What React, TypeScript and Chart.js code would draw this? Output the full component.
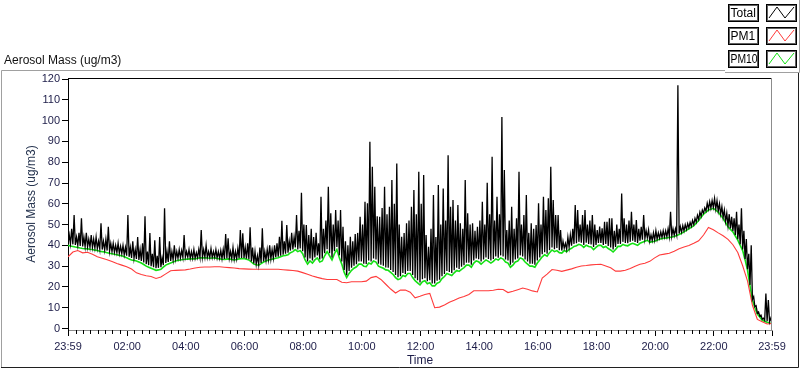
import React, { useEffect, useRef } from 'react';
import { Chart, registerables } from 'chart.js';

Chart.register(...registerables);

// ---- data (minutes after 23:59 of the previous day) ----
const TOTAL_STEP_MIN = 5; // each 5-minute bin: lowest and highest Total reading
const PM10_STEP_MIN = 5;
const PM1_STEP_MIN = 10;

const totalLow = [
  41, 40.7, 40.5, 40.2, 40, 39.7, 39.5, 39.4, 39.3, 39.1,
  39, 38.7, 38.5, 38.2, 38, 37.8, 37.5, 37.2, 37, 36.7,
  36.5, 36.2, 36, 35.5, 35, 34.5, 34, 33.8, 33.5, 33,
  32.5, 31.8, 31, 30.5, 30, 29.5, 29, 29.2, 29.5, 30.5,
  31.5, 32, 32.5, 33, 33.5, 33.8, 34, 34.2, 34.3, 34.4,
  33.8, 33.8, 33.8, 34.1, 34.3, 34.3, 34.3, 34.2, 34.1, 34.2,
  34.3, 34, 33.8, 33.6, 33.5, 33.7, 33.8, 33.5, 33.3, 33.5,
  33.8, 33.9, 34, 33.6, 33.3, 32.3, 31.3, 31, 30.8, 31.5,
  32.3, 32.8, 33.3, 33.5, 33.8, 34.3, 34.5, 35, 35.5, 36,
  36.5, 37.5, 38, 39, 38, 38.5,
  37.2, 34.2, 32.2, 33.7, 32.7, 34.2, 35.2, 33.2, 33.7, 36.2,
  38.2, 36.2, 34.2, 37.2, 39.2, 35.2, 32.2, 28.2, 25.7, 27.7,
  29.2, 30.2, 30.9, 32.2, 32.2, 31.2, 31, 32.7, 32.2, 33.7,
  33.2, 31.2, 30.7, 30.2, 29.4, 29.2, 28.2, 27.2, 25.7, 24.7,
  25.2, 26.7, 26.2, 27.7, 27.7, 25.7, 24.2, 23.2, 22.2, 23.7,
  24.2, 22.7, 23.2, 21.7, 21.7, 23, 23.5, 25.2, 26.2, 27.7,
  27.2, 26.7, 28, 29.2, 28.7, 29.7, 30.5, 31.7, 31.7, 30.7,
  32.7, 33.7, 33.3, 32.2, 33.2, 34.2, 33.5, 32.7, 33.5, 34.7,
  34.1, 35.2, 34.6, 33.2, 32.7, 30.7, 31.7, 33.2, 33.7, 35.2,
  34.7, 33.2, 32.2, 31.2, 31.2, 30.7, 32.7, 34.2, 35.7, 36.7,
  36, 37.7, 39, 38.2, 38.7, 37.7, 37.5, 38.7, 38.1, 39.2,
  39.8, 40.7, 41, 41.7, 41.3, 40.2, 41.3, 40.7, 40.4, 39.2,
  40.2, 41.2, 41.2, 40.2, 40.7, 39.7, 39, 38, 39.2, 40.7,
  40.7, 41.7, 41.2, 41, 41.7, 42.2, 41.7, 41.2, 42.2, 42.7,
  43.2, 43.7,
  42, 42.3, 42.5, 43, 43.5, 43.8, 44, 44.1, 44.3, 44.5,
  44.8, 45.2, 45.7, 46.3, 47, 47.7, 48.5, 49.2, 50, 51.2,
  52.5, 54, 55.5, 56.5, 57.5, 57.9, 58.3, 57.5, 56.5, 55,
  53.5, 51.5, 49.5, 48.2, 47, 45, 43, 40.5, 38, 33.5,
  28.5, 21, 14, 10.5, 7.5, 6, 4.5, 4, 3.5, 3.2,
  3,
];

const totalHigh = [
  45, 48, 54.6, 44, 46, 53, 44, 46, 43, 45,
  43, 44, 42, 50.6, 42, 43, 49, 41, 41, 40,
  41, 39.5, 40, 39, 54.6, 39, 42, 38, 44, 38,
  41, 54, 37, 46, 36, 42.5, 35, 44, 34, 57.8,
  37, 42, 37, 40, 37, 38, 37.5, 45, 37, 38,
  37, 38, 36.5, 38, 47.4, 38, 40, 37, 38.5, 37,
  38, 37, 37.5, 38, 45.4, 43.4, 37, 39, 37, 38.5,
  47.4, 45.8, 39, 41, 48.7, 39, 37, 35, 39, 48.2,
  37, 38, 40, 38, 40, 41, 44.1, 51.8, 42, 49.8,
  42, 46, 44, 54.6, 47, 65.3,
  50, 49.8, 45, 48, 44, 46, 41, 63.4, 48, 52,
  68.2, 55.4, 50, 57, 52, 57, 48.9, 42, 40, 44.1,
  42, 45.4, 46, 53.7, 50, 61, 60.2, 89.8, 77.8, 68.2,
  54, 53.7, 58, 68.2, 55, 58.6, 71.4, 60, 79.4, 50,
  44.1, 46, 50.6, 52, 58.6, 66.6, 55, 75.4, 60, 73.8,
  45, 39.3, 48, 64.2, 44, 69, 50, 67.4, 52, 83.4,
  58.6, 61.8, 52, 59.4, 50.6, 48, 71.4, 55.4, 50, 50.6,
  47, 48.9, 52, 61, 50, 70.1, 55, 82.6, 52, 63.4,
  55, 101.8, 76.2, 47.4, 52, 58.6, 48, 53, 75.4, 50,
  54.6, 64.2, 46, 50.6, 48, 49.8, 60.2, 50, 63.4, 57,
  62.6, 77.8, 61.8, 54.6, 54.6, 47.4, 42, 41, 44, 45,
  48, 59.4, 57, 50, 54.6, 57, 50, 52, 54.6, 50,
  47.4, 49, 48.2, 51.4, 51.4, 53, 53, 47, 50, 48,
  65, 53, 50, 52, 56.1, 50, 52.2, 48, 48.9, 54.6,
  47, 47.4,
  45, 46, 47, 46, 46.5, 47, 47, 48, 56.1, 48,
  48, 117, 49, 49.5, 50, 50.5, 51, 52, 53, 54.5,
  56, 57, 58, 60.2, 61, 61.5, 62.6, 61.5, 60, 58.6,
  57, 55.4, 55, 53.7, 53, 56.1, 50, 57.8, 47, 43,
  36, 40.1, 15.3, 11, 8, 6.5, 5, 16.9, 13.7, 5,
  3.5,
];

const pm10Values = [
  40, 39.7, 39.5, 39.2, 39, 38.7, 38.5, 38.4, 38.3, 38.1,
  38, 37.7, 37.5, 37.2, 37, 36.8, 36.5, 36.2, 36, 35.7,
  35.5, 35.2, 35, 34.5, 34, 33.5, 33, 32.8, 32.5, 32,
  31.5, 30.8, 30, 29.5, 29, 28.5, 28, 28.2, 28.5, 29.5,
  30.5, 31, 31.5, 32, 32.5, 32.8, 33, 33.2, 33.3, 33.4,
  33.5, 33.5, 33.5, 33.8, 34, 34, 34, 33.9, 33.8, 33.9,
  34, 33.7, 33.5, 33.3, 33.2, 33.4, 33.5, 33.2, 33, 33.2,
  33.5, 33.6, 33.7, 33.3, 33, 32, 31, 30.7, 30.5, 31.2,
  32, 32.5, 33, 33.2, 33.5, 33.8, 34, 34.5, 35, 35.2,
  35.5, 36.5, 37, 38, 37, 37.5, 36, 33, 31, 32.5,
  31.5, 33, 34, 32, 32.5, 35, 37, 35, 33, 36,
  38, 34, 31, 27, 24.5, 26.5, 28, 29, 29.7, 31,
  31, 30, 29.8, 31.5, 31, 32.5, 32, 30, 29.5, 29,
  28.2, 28, 27, 26, 24.5, 23.5, 24, 25.5, 25, 26.5,
  26.5, 24.5, 23, 22, 21, 22.5, 23, 21.5, 22, 20.5,
  20.5, 21.8, 22.3, 24, 25, 26.5, 26, 25.5, 26.8, 28,
  27.5, 28.5, 29.3, 30.5, 30.5, 29.5, 31.5, 32.5, 32.1, 31,
  32, 33, 32.3, 31.5, 32.3, 33.5, 32.9, 34, 33.4, 32,
  31.5, 29.5, 30.5, 32, 32.5, 34, 33.5, 32, 31, 30,
  30, 29.5, 31.5, 33, 34.5, 35.5, 34.8, 36.5, 37.8, 37,
  37.5, 36.5, 36.3, 37.5, 36.9, 38, 38.6, 39.5, 39.8, 40.5,
  40.1, 39, 40.1, 39.5, 39.2, 38, 39, 40, 40, 39,
  39.5, 38.5, 37.8, 36.8, 38, 39.5, 39.5, 40.5, 40, 39.8,
  40.5, 41, 40.5, 40, 41, 41.5, 42, 42.5, 41.5, 41.8,
  42, 42.5, 43, 43.3, 43.5, 43.6, 43.8, 44, 44.3, 44.7,
  45.2, 45.8, 46.5, 47.2, 48, 48.7, 49.5, 50.7, 52, 53.5,
  55, 56, 57, 57.4, 57.8, 57, 56, 54.5, 53, 51,
  49, 47.7, 46.5, 44.5, 42.5, 40, 37.5, 33, 28, 20.5,
  13.5, 10, 7, 5.5, 4, 3.5, 3, 2.7, 2.5,
];

const pm1Values = [
  34.5, 36.8, 37.5, 36.4, 36.7, 35.7, 34.5, 33.8, 33.1, 32.2,
  31.3, 30.5, 29.7, 28.6, 26.8, 26.0, 25.4, 25.0, 24.1, 24.8,
  26.3, 27.8, 28.0, 28.1, 28.2, 28.6, 29.1, 29.5, 29.6, 29.6,
  29.7, 29.7, 29.5, 29.3, 29.1, 28.8, 28.7, 28.6, 28.5, 28.5,
  28.5, 28.5, 28.5, 28.5, 28.3, 28.1, 27.9, 27.6, 26.9, 26.1,
  25.3, 24.6, 24.0, 23.6, 23.6, 23.6, 22.3, 22.0, 22.5, 22.5,
  22.5, 22.8, 24.5, 25.1, 23.6, 21.3, 19.0, 17.1, 18.5, 18.5,
  17.5, 14.8, 15.5, 16.4, 16.9, 10.0, 10.3, 11.3, 12.6, 13.6,
  14.7, 15.4, 16.4, 18.2, 18.2, 18.2, 18.2, 18.4, 18.9, 18.8,
  17.3, 17.9, 18.7, 19.5, 18.9, 18.1, 17.6, 24.3, 26.2, 28.4,
  28.0, 27.5, 28.1, 28.7, 29.5, 30.1, 30.3, 30.6, 30.8, 30.9,
  30.1, 29.2, 27.6, 27.6, 28.0, 28.9, 30.0, 30.9, 31.4, 32.3,
  34.0, 35.4, 35.8, 36.2, 37.2, 38.4, 39.2, 39.9, 41.0, 42.2,
  45.0, 48.6, 47.5, 46.0, 44.6, 42.9, 40.3, 36.6, 30.2, 22.8,
  11.2, 4.4, 3.3, 2.2, 2.5,
];

const xTickMinutes = [0, 121, 241, 361, 481, 601, 721, 841, 961, 1081, 1201, 1321, 1440];
const xTickLabels = ['23:59', '02:00', '04:00', '06:00', '08:00', '10:00', '12:00', '14:00', '16:00', '18:00', '20:00', '22:00', '23:59'];
const yTickValues = [0, 10, 20, 30, 40, 50, 60, 70, 80, 90, 100, 110, 120];
const legendLabels = ['Total', 'PM1', 'PM10'];
const seriesColors = ['#000000', '#ff3b3b', '#14e014'];

const X_MAX = 1440;

// minor ticks every 15 minutes of clock time
const minorTickMinutes: number[] = [];
for (let m = 1; m < X_MAX; m += 15) {
  if (!xTickMinutes.some((t) => Math.abs(t - m) < 3)) minorTickMinutes.push(m);
}

// the Total trace: the low reading, then the high reading, of every bin
const totalPoints: { x: number; y: number }[] = [];
totalLow.forEach((lo, i) => {
  const t = i * TOTAL_STEP_MIN;
  totalPoints.push({ x: t, y: lo });
  if (t + TOTAL_STEP_MIN / 2 <= X_MAX) totalPoints.push({ x: t + TOTAL_STEP_MIN / 2, y: totalHigh[i] });
});

const FONT = "'Liberation Sans', Arial, sans-serif";
const TICK_COLOR = '#1c1c48';

const decorPlugin = {
  id: 'decor',
  beforeDraw(chart: any) {
    const ctx = chart.ctx;
    ctx.save();
    ctx.fillStyle = '#ffffff';
    ctx.fillRect(0, 0, chart.width, chart.height);
    ctx.restore();
  },
  afterDraw(chart: any) {
    const { ctx, chartArea, scales } = chart;
    const ca = chartArea;
    ctx.save();
    ctx.lineWidth = 1;
    // plot frame: top (dark) and right (gray)
    ctx.strokeStyle = '#000000';
    ctx.beginPath();
    ctx.moveTo(ca.left, Math.round(ca.top) + 0.5);
    ctx.lineTo(ca.right, Math.round(ca.top) + 0.5);
    ctx.stroke();
    ctx.strokeStyle = '#8c8c8c';
    ctx.beginPath();
    ctx.moveTo(Math.round(ca.right) - 0.5, ca.top);
    ctx.lineTo(Math.round(ca.right) - 0.5, ca.bottom);
    ctx.stroke();
    // minor x ticks
    ctx.strokeStyle = '#000000';
    ctx.beginPath();
    for (const m of minorTickMinutes) {
      const px = Math.round(scales.x.getPixelForValue(m)) + 0.5;
      ctx.moveTo(px, ca.bottom);
      ctx.lineTo(px, ca.bottom + 4);
    }
    ctx.stroke();

    // outer graph frame
    ctx.strokeStyle = '#a0a0a0';
    ctx.beginPath();
    ctx.moveTo(1.5, 367);
    ctx.lineTo(1.5, 70.5);
    ctx.lineTo(798, 70.5);
    ctx.stroke();
    ctx.strokeStyle = '#202020';
    ctx.beginPath();
    ctx.moveTo(1, 367.5);
    ctx.lineTo(798.5, 367.5);
    ctx.lineTo(798.5, 70);
    ctx.stroke();

    // graph label
    ctx.fillStyle = '#111111';
    ctx.font = `12px ${FONT}`;
    ctx.textBaseline = 'alphabetic';
    ctx.textAlign = 'left';
    ctx.fillText('Aerosol Mass (ug/m3)', 4, 64);

    // legend panel
    ctx.fillStyle = '#ffffff';
    ctx.fillRect(725, 0, 75, 72);
    ctx.strokeStyle = '#a0a0a0';
    ctx.beginPath();
    ctx.moveTo(725, 72.5);
    ctx.lineTo(799.5, 72.5);
    ctx.lineTo(799.5, 0);
    ctx.stroke();
    legendLabels.forEach((label, i) => {
      const top = Math.round(4 + i * 23);
      const h = 17;
      ctx.fillStyle = '#ffffff';
      ctx.fillRect(728, top, 30, h);
      ctx.lineWidth = 1;
      ctx.strokeStyle = '#000000';
      ctx.strokeRect(728.5, top + 0.5, 30, h);
      ctx.strokeStyle = '#606060';
      ctx.strokeRect(729.5, top + 1.5, 28, h - 2);
      ctx.fillStyle = '#000000';
      ctx.font = `12px ${FONT}`;
      ctx.textBaseline = 'middle';
      ctx.fillText(label, 730.5, top + h / 2 + 1, 27);
      // sample box
      ctx.strokeStyle = '#000000';
      ctx.strokeRect(766.5, top + 0.5, 30, h);
      ctx.strokeStyle = '#606060';
      ctx.strokeRect(767.5, top + 1.5, 28, h - 2);
      ctx.strokeStyle = seriesColors[i];
      ctx.beginPath();
      ctx.moveTo(769, top + 14);
      ctx.lineTo(777, top + 3);
      ctx.lineTo(785, top + 14);
      ctx.lineTo(794, top + 3);
      ctx.stroke();
    });
    ctx.restore();
  },
};

export default function App() {
  const canvasRef = useRef<HTMLCanvasElement | null>(null);

  useEffect(() => {
    document.body.style.margin = '0';
    const canvas = canvasRef.current;
    if (!canvas) return;
    const chart = new Chart(canvas, {
      type: 'line',
      data: {
        datasets: [
          {
            label: legendLabels[0],
            data: totalPoints,
            borderColor: seriesColors[0],
            borderWidth: 1.3,
            pointRadius: 0,
            tension: 0,
            order: 0,
          },
          {
            label: legendLabels[1],
            data: pm1Values.map((v, i) => ({ x: i * PM1_STEP_MIN, y: v })),
            borderColor: seriesColors[1],
            borderWidth: 1.1,
            pointRadius: 0,
            tension: 0,
            order: 1,
          },
          {
            label: legendLabels[2],
            data: pm10Values.map((v, i) => ({ x: i * PM10_STEP_MIN, y: v })),
            borderColor: seriesColors[2],
            borderWidth: 1.6,
            pointRadius: 0,
            tension: 0,
            order: 2,
          },
        ],
      },
      options: {
        animation: false,
        responsive: false,
        maintainAspectRatio: false,
        parsing: false as any,
        normalized: true,
        events: [],
        layout: { padding: { left: 0, right: 28, top: 78, bottom: 0 } },
        plugins: { legend: { display: false }, tooltip: { enabled: false } },
        scales: {
          x: {
            type: 'linear',
            min: 0,
            max: X_MAX,
            afterBuildTicks: (s: any) => {
              s.ticks = xTickMinutes.map((v) => ({ value: v }));
            },
            afterFit: (s: any) => {
              s.height = 39;
            },
            ticks: {
              autoSkip: false,
              maxRotation: 0,
              minRotation: 0,
              padding: 4,
              color: TICK_COLOR,
              font: { family: FONT, size: 11 },
              callback: (v: any) => {
                const idx = xTickMinutes.indexOf(Number(v));
                return idx >= 0 ? xTickLabels[idx] : '';
              },
            },
            grid: { drawOnChartArea: false, drawTicks: true, tickLength: 6, color: '#000000', tickColor: '#000000' },
            border: { color: '#8c8c8c', width: 1 },
            title: {
              display: true,
              text: 'Time',
              color: TICK_COLOR,
              font: { family: FONT, size: 12 },
              padding: { top: 0, bottom: 1 },
            },
          },
          y: {
            type: 'linear',
            min: -0.7,
            max: 120.5,
            afterBuildTicks: (s: any) => {
              s.ticks = yTickValues.map((v) => ({ value: v }));
            },
            afterFit: (s: any) => {
              s.width = 68;
            },
            ticks: {
              padding: 2,
              color: TICK_COLOR,
              font: { family: FONT, size: 11 },
            },
            grid: { drawOnChartArea: false, drawTicks: true, tickLength: 6, color: '#000000', tickColor: '#000000' },
            border: { color: '#000000', width: 1 },
            title: {
              display: true,
              text: 'Aerosol Mass (ug/m3)',
              color: '#26344f',
              font: { family: FONT, size: 12 },
              padding: { top: 24, bottom: 0 },
            },
          },
        },
      },
      plugins: [decorPlugin],
    });
    return () => chart.destroy();
  }, []);

  return (
    <div style={{ width: 800, height: 369 }}>
      <canvas ref={canvasRef} width={800} height={369} style={{ display: 'block' }} />
    </div>
  );
}
